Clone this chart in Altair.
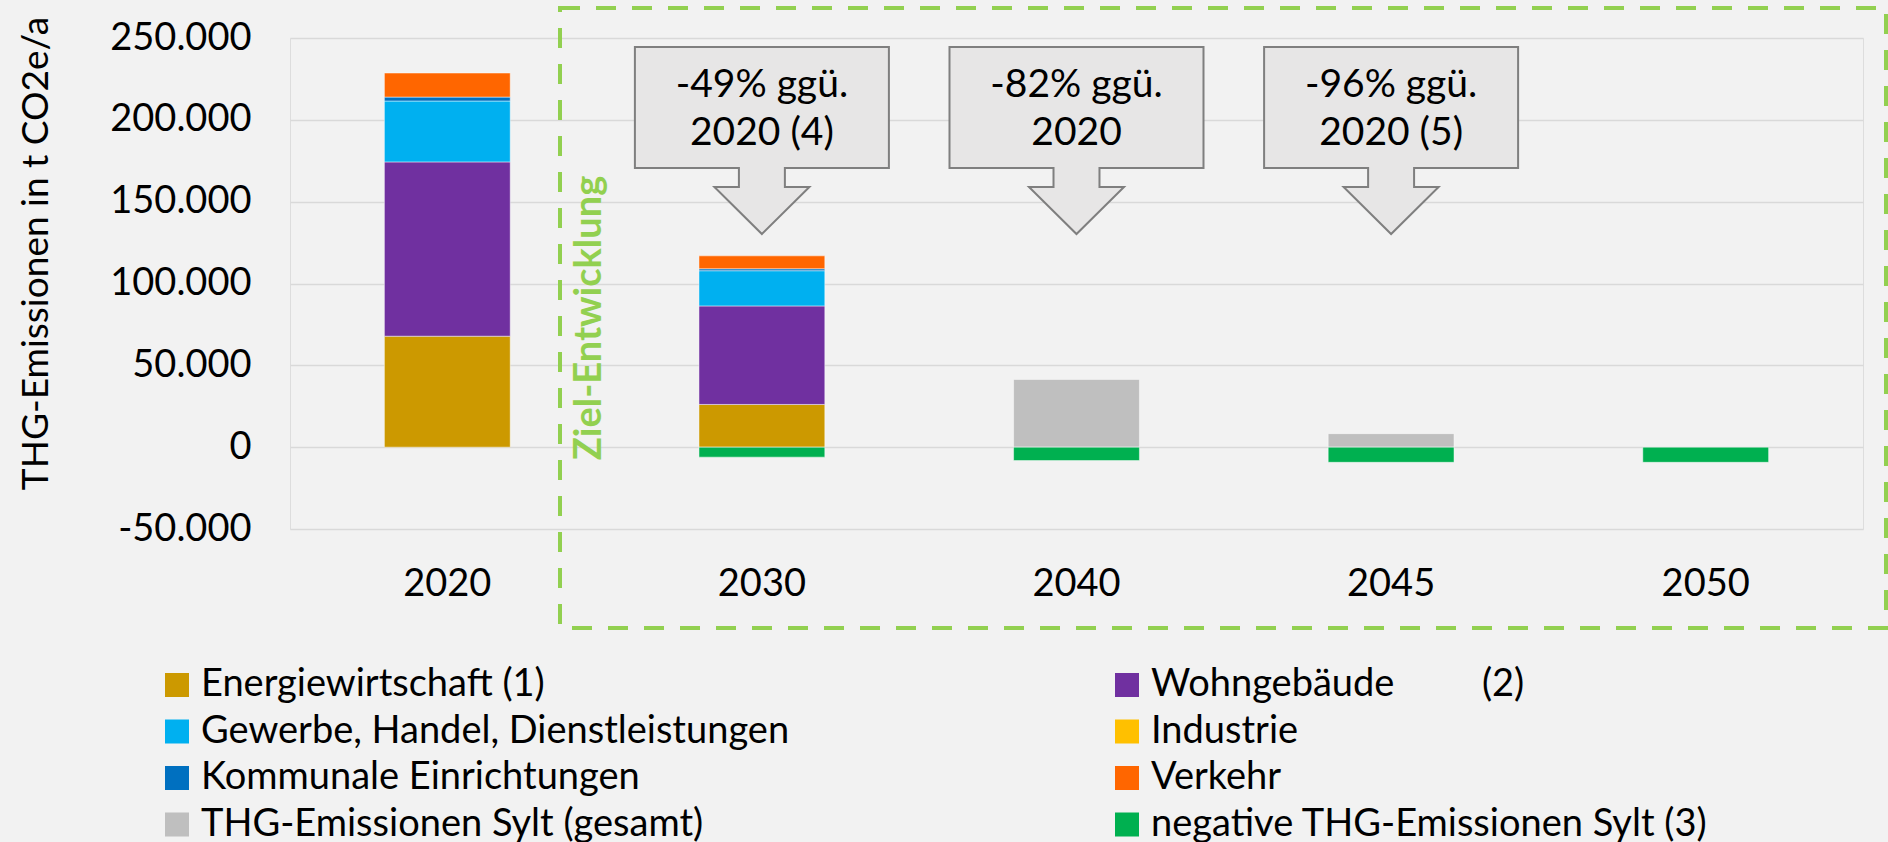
import altair as alt
import pandas as pd

# ---------------- data ----------------
years = ["2020", "2030", "2040", "2045", "2050"]
categories = [
    "Energiewirtschaft (1)",
    "Wohngebäude" + "\u00a0" * 9 + "(2)",
    "Gewerbe, Handel, Dienstleistungen",
    "Industrie",
    "Kommunale Einrichtungen",
    "Verkehr",
    "THG-Emissionen Sylt (gesamt)",
    "negative THG-Emissionen Sylt (3)",
]
colors = ["#cc9900", "#7030a0", "#00b0f0", "#ffc000", "#0070c0", "#ff6600", "#bfbfbf", "#00b050"]

energie = [67800, 26100, 0, 0, 0]
wohn = [106500, 60200, 0, 0, 0]
ghd = [37200, 21500, 0, 0, 0]
industrie = [0, 0, 0, 0, 0]
kommunal = [2400, 1200, 0, 0, 0]
verkehr = [14700, 7900, 0, 0, 0]
gesamt = [0, 0, 41400, 8250, 0]
negativ = [0, -6100, -8200, -9250, -9250]
series = [energie, wohn, ghd, industrie, kommunal, verkehr, gesamt, negativ]

callout_years = ["2030", "2040", "2045"]
callout_line1 = ["-49% ggü.", "-82% ggü.", "-96% ggü."]
callout_line2 = ["2020 (4)", "2020", "2020 (5)"]

y_ticks = [-50000, 0, 50000, 100000, 150000, 200000, 250000]

rows = []
for i, (cat, vals) in enumerate(zip(categories, series)):
    for yr, v in zip(years, vals):
        if v != 0:
            rows.append({"Jahr": yr, "Kategorie": cat, "Wert": v, "idx": i})
df = pd.DataFrame(rows)
callouts = pd.DataFrame({"Jahr": callout_years, "l1": callout_line1, "l2": callout_line2})
one = pd.DataFrame({"t": ["Ziel-Entwicklung"]})

# legend is filled column by column: interleave so it reads row by row
legend_domain = categories[0::2] + categories[1::2]
legend_range = colors[0::2] + colors[1::2]

FONT = "Lato"
W, H = 1573, 491

x_scale = alt.Scale(domain=years, paddingInner=0.6, paddingOuter=0.3)

bars = alt.Chart(df).mark_bar(stroke="#ffffff", strokeWidth=0.8, strokeOpacity=0.6).encode(
    x=alt.X("Jahr:N", scale=x_scale, sort=years,
            axis=alt.Axis(title=None, labelAngle=0, labelFontSize=38, labelPadding=36,
                          ticks=False, domain=False, grid=False, labelColor="#000000",
                          labelFont=FONT)),
    y=alt.Y("Wert:Q", stack="zero",
            scale=alt.Scale(domain=[-50000, 250000], nice=False, zero=False),
            axis=alt.Axis(values=y_ticks, title="THG-Emissionen in t CO2e/a",
                          labelExpr="(datum.value < 0 ? '-' : '') + replace(format(abs(datum.value), ','), regexp(',', 'g'), '.')",
                          labelFontSize=38, labelPadding=39, ticks=False, tickSize=0,
                          domain=False, grid=True, gridColor="#d9d9d9", gridWidth=1.5,
                          labelColor="#000000", labelFont=FONT,
                          titleFont=FONT, titleFontSize=37, titleFontWeight="normal",
                          titleColor="#000000", titleX=-254, titleY=215, titleAngle=270,
                          titleAlign="center", titleBaseline="middle")),
    color=alt.Color("Kategorie:N", scale=alt.Scale(domain=legend_domain, range=legend_range),
                    legend=alt.Legend(title=None, orient="none", legendX=-132, legendY=628,
                                      columns=2, columnPadding=318, rowPadding=8.5,
                                      symbolType="square", symbolSize=576, symbolStrokeWidth=0,
                                      labelFontSize=38, labelFont=FONT, labelColor="#000000",
                                      labelOffset=5, labelLimit=2000, padding=0)),
    order=alt.Order("idx:Q"),
)

# dashed "Ziel-Entwicklung" frame (decoration)
frame = alt.Chart(one).mark_rect(fill=None, stroke="#92d050", strokeWidth=4,
                                 strokeDash=[20, 16]).encode(
    x=alt.value(270), x2=alt.value(1596), y=alt.value(-30), y2=alt.value(590))

ziel = alt.Chart(one).mark_text(angle=270, font=FONT, fontSize=38, fontWeight="bold",
                                color="#92d050", align="center", baseline="middle").encode(
    x=alt.value(300), y=alt.value(280), text="t:N")

callout_path = ("M -1 -0.736 L 1 -0.736 L 1 0.2165 L 0.181 0.2165 L 0.181 0.366 "
                "L 0.374 0.366 L 0 0.736 L -0.374 0.366 L -0.181 0.366 L -0.181 0.2165 "
                "L -1 0.2165 Z")

boxes = alt.Chart(callouts).mark_point(shape=callout_path, size=254 * 254, filled=True,
                                       fill="#e7e6e6", stroke="#7f7f7f", strokeWidth=2,
                                       opacity=1, fillOpacity=1).encode(
    x=alt.X("Jahr:N", sort=years), y=alt.value(102.5))

t1 = alt.Chart(callouts).mark_text(font=FONT, fontSize=39, color="#000000",
                                   baseline="middle", align="center").encode(
    x=alt.X("Jahr:N", sort=years), y=alt.value(47), text="l1:N")
t2 = alt.Chart(callouts).mark_text(font=FONT, fontSize=39, color="#000000",
                                   baseline="middle", align="center").encode(
    x=alt.X("Jahr:N", sort=years), y=alt.value(95), text="l2:N")

chart = alt.layer(bars, frame, ziel, boxes, t1, t2).properties(
    width=W, height=H,
    autosize=alt.AutoSizeParams(type="none"),
    padding={"left": 290, "top": 38, "right": 25, "bottom": 313},
    background="#f2f2f2",
).configure_view(stroke="#a6a6a6", strokeWidth=1.5).configure(font=FONT)

chart.save("out.html", embed_options={"renderer": "svg", "actions": False})
